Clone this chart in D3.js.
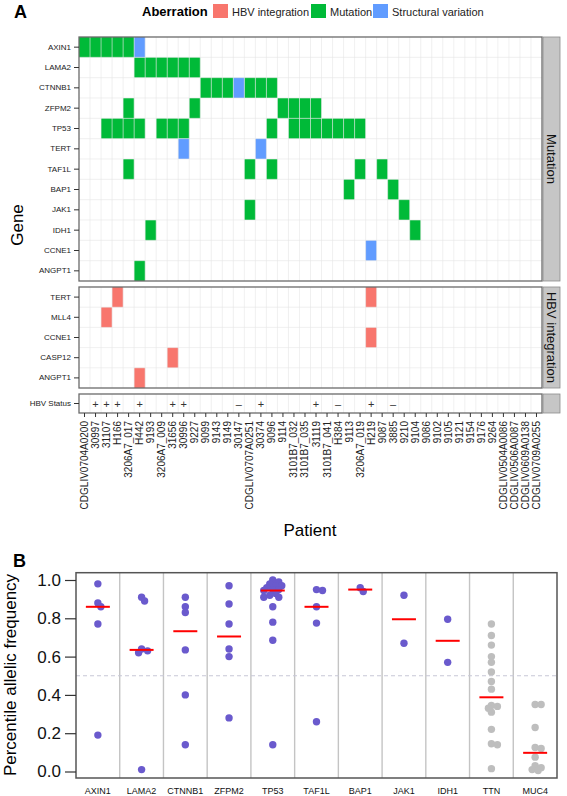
<!DOCTYPE html>
<html lang="en">
<head>
<meta charset="UTF-8">
<title>Aberrations and allelic frequency</title>
<script src="https://d3js.org/d3.v7.min.js"></script>
<style>
  body { margin: 0; background: #fff; }
  svg { font-family: "Liberation Sans", Arial, sans-serif; }
</style>
</head>
<body>
<div id="chart"></div>

<script>
// ---- Panel A data ----
const patients = ["CDGLIV0704A0200", "30997", "31107", "H166", "3206A7_017", "H442", "9193",
  "3206A7_009", "31656", "30996", "9227", "9099", "9143", "9149", "30147", "CDGLIV0707A0251",
  "30374", "9096", "9114", "3101B7_032", "3101B7_035", "31119", "3101B7_041", "H384", "9113",
  "3206A7_019", "H219", "9087", "3885", "9210", "9104", "9086", "9102", "9105", "9121", "9154",
  "9176", "9264", "CDGLIV0504A0086", "CDGLIV0506A0087", "CDGLIV0609A0138", "CDGLIV0709A0255"];

const mutationGenes = ["AXIN1", "LAMA2", "CTNNB1", "ZFPM2", "TP53", "TERT", "TAF1L", "BAP1",
  "JAK1", "IDH1", "CCNE1", "ANGPT1"];
const hbvGenes = ["TERT", "MLL4", "CCNE1", "CASP12", "ANGPT1"];

// gene -> patients carrying a point mutation
const mutationHits = [
  ["AXIN1", ["CDGLIV0704A0200", "30997", "31107", "H166", "3206A7_017"]],
  ["LAMA2", ["H442", "9193", "3206A7_009", "31656", "30996", "9227"]],
  ["CTNNB1", ["9099", "9143", "9149", "CDGLIV0707A0251", "30374", "9096"]],
  ["ZFPM2", ["3206A7_017", "9227", "9114", "3101B7_032", "3101B7_035", "31119"]],
  ["TP53", ["31107", "H166", "3206A7_017", "H442", "3206A7_009", "31656", "30996", "9096",
    "3101B7_032", "3101B7_035", "31119", "3101B7_041", "H384", "9113", "3206A7_019"]],
  ["TAF1L", ["3206A7_017", "CDGLIV0707A0251", "9096", "3206A7_019", "9087"]],
  ["BAP1", ["9113", "3885"]],
  ["JAK1", ["CDGLIV0707A0251", "9210"]],
  ["IDH1", ["9193", "9104"]],
  ["ANGPT1", ["H442"]]
];
// gene -> patients with a structural variation
const svHits = [
  ["AXIN1", ["H442"]],
  ["CTNNB1", ["30147"]],
  ["TERT", ["30996", "30374"]],
  ["CCNE1", ["H219"]]
];
// gene -> patients with HBV integration
const hbvHits = [
  ["TERT", ["H166", "H219"]],
  ["MLL4", ["31107"]],
  ["CCNE1", ["H219"]],
  ["CASP12", ["31656"]],
  ["ANGPT1", ["H442"]]
];
const hbvPositive = ["30997", "31107", "H166", "H442", "31656", "30996", "30374", "31119", "H219"];
const hbvNegative = ["30147", "H384", "3885"];

const aberrations = ["HBV integration", "Mutation", "Structural variation"];
const aberrationColors = ["#F8766D", "#00BA38", "#619CFF"];

// ---- Panel B data ----
const afGenes = ["AXIN1", "LAMA2", "CTNNB1", "ZFPM2", "TP53", "TAF1L", "BAP1", "JAK1", "IDH1", "TTN", "MUC4"];
const controlGenes = ["TTN", "MUC4"];
const afAXIN1 = [0.98, 0.88, 0.86, 0.77, 0.19];
const afLAMA2 = [0.91, 0.89, 0.64, 0.63, 0.62, 0.01];
const afCTNNB1 = [0.91, 0.86, 0.83, 0.635, 0.40, 0.14];
const afZFPM2 = [0.97, 0.875, 0.77, 0.64, 0.60, 0.28];
const afTP53 = [1.0, 0.99, 0.98, 0.97, 0.97, 0.96, 0.95, 0.95, 0.945, 0.93, 0.92, 0.91, 0.91, 0.86, 0.78, 0.685, 0.14];
const afTAF1L = [0.95, 0.945, 0.86, 0.775, 0.26];
const afBAP1 = [0.96, 0.94];
const afJAK1 = [0.92, 0.67];
const afIDH1 = [0.795, 0.57];
const afTTN = [0.77, 0.71, 0.66, 0.60, 0.57, 0.52, 0.47, 0.43, 0.345, 0.34, 0.33, 0.31, 0.22, 0.145, 0.14, 0.015];
const afMUC4 = [0.35, 0.35, 0.23, 0.125, 0.12, 0.075, 0.03, 0.02, 0.01, 0.005];
const afValues = [afAXIN1, afLAMA2, afCTNNB1, afZFPM2, afTP53, afTAF1L, afBAP1, afJAK1, afIDH1, afTTN, afMUC4];
const afTicks = [0, 0.2, 0.4, 0.6, 0.8, 1.0];

// ---- svg ----
const svg = d3.select("#chart").append("svg")
  .attr("width", 567)
  .attr("height", 796);

const border = "#6a6a6a";
const gridCol = "#e6e6e6";

// ---------------- Panel A ----------------
const x = d3.scaleBand().domain(patients).range([79, 542]);
const stripX = 543, stripW = 17;

svg.append("text").attr("x", 14).attr("y", 18)
  .attr("font-size", 18).attr("font-weight", "bold").text("A");

// legend
const legend = svg.append("g");
legend.append("text").attr("x", 142).attr("y", 16)
  .attr("font-size", 13).attr("font-weight", "bold").text("Aberration");
const legendX = [213, 311, 373];
aberrations.forEach((a, i) => {
  legend.append("rect").attr("x", legendX[i]).attr("y", 4).attr("width", 15).attr("height", 14)
    .attr("fill", aberrationColors[i]);
  legend.append("text").attr("x", legendX[i] + 19).attr("y", 15.5)
    .attr("font-size", 11).attr("fill", "#222").text(a);
});

function toCells(hits, type) {
  const out = [];
  hits.forEach(([gene, ps]) => ps.forEach(p => out.push({ gene, patient: p, type })));
  return out;
}

function drawPanel(genes, cells, top, bottom, stripLabel) {
  const y = d3.scaleBand().domain(genes).range([top, bottom]);
  const g = svg.append("g");
  g.append("rect").attr("x", 79).attr("y", top).attr("width", 463).attr("height", bottom - top)
    .attr("fill", "#fff");
  g.selectAll("rect.cell").data(cells).enter().append("rect")
    .attr("class", "cell")
    .attr("x", d => x(d.patient))
    .attr("y", d => y(d.gene))
    .attr("width", x.bandwidth())
    .attr("height", y.bandwidth())
    .attr("fill", d => aberrationColors[aberrations.indexOf(d.type)]);
  // grid lines at cell boundaries
  g.selectAll("line.v").data(patients.slice(1)).enter().append("line")
    .attr("x1", d => x(d)).attr("x2", d => x(d))
    .attr("y1", top).attr("y2", bottom)
    .attr("stroke", gridCol).attr("stroke-opacity", 0.75).attr("stroke-width", 0.8);
  g.selectAll("line.h").data(genes.slice(1)).enter().append("line")
    .attr("y1", d => y(d)).attr("y2", d => y(d))
    .attr("x1", 79).attr("x2", 542)
    .attr("stroke", gridCol).attr("stroke-opacity", 0.75).attr("stroke-width", 0.8);
  g.append("rect").attr("x", 79).attr("y", top).attr("width", 463).attr("height", bottom - top)
    .attr("fill", "none").attr("stroke", border).attr("stroke-width", 1.3);
  // row labels
  g.append("g").attr("transform", "translate(79,0)")
    .call(d3.axisLeft(y).tickSize(5).tickPadding(3))
    .call(a => a.select(".domain").remove())
    .call(a => a.selectAll("line").attr("stroke", "#333"))
    .call(a => a.selectAll("text").attr("font-size", 8).attr("fill", "#222")
      .attr("font-family", "Liberation Sans, Arial, sans-serif"));
  // strip
  g.append("rect").attr("x", stripX).attr("y", top).attr("width", stripW).attr("height", bottom - top)
    .attr("fill", "#c6c6c6").attr("stroke", "#8c8c8c").attr("stroke-width", 0.8);
  if (stripLabel) {
    g.append("text")
      .attr("transform", `translate(${stripX + stripW / 2 - 4.5},${(top + bottom) / 2}) rotate(90)`)
      .attr("text-anchor", "middle").attr("font-size", 13).attr("fill", "#111")
      .text(stripLabel);
  }
  return y;
}

const mutCells = toCells(mutationHits, "Mutation").concat(toCells(svHits, "Structural variation"));
drawPanel(mutationGenes, mutCells, 37, 281, "Mutation");
drawPanel(hbvGenes, toCells(hbvHits, "HBV integration"), 287, 388, "HBV integration");

// HBV status row
const statusY = drawPanel(["HBV Status"], [], 394, 413, null);
const statusData = hbvPositive.map(p => ({ p, s: "+" })).concat(hbvNegative.map(p => ({ p, s: "\u2013" })));
svg.append("g").selectAll("text").data(statusData).enter().append("text")
  .attr("x", d => x(d.p) + x.bandwidth() / 2)
  .attr("y", statusY("HBV Status") + statusY.bandwidth() / 2 + 4)
  .attr("text-anchor", "middle").attr("font-size", 11).attr("fill", "#333")
  .text(d => d.s);

// patient axis
svg.append("g").attr("transform", "translate(0,413)")
  .call(d3.axisBottom(x).tickSize(4).tickPadding(2))
  .call(a => a.select(".domain").remove())
  .call(a => a.selectAll("line").attr("stroke", "#333"))
  .call(a => a.selectAll("text")
    .attr("font-size", 10).attr("fill", "#222")
    .attr("font-family", "Liberation Sans, Arial, sans-serif")
    .attr("text-anchor", "end")
    .attr("dy", "0.35em")
    .attr("transform", "translate(0,2) rotate(-90)")
    .attr("x", -6).attr("y", 0));

svg.append("text").attr("x", 310).attr("y", 536).attr("text-anchor", "middle")
  .attr("font-size", 17).text("Patient");
svg.append("text").attr("transform", "translate(23,225) rotate(-90)")
  .attr("text-anchor", "middle").attr("font-size", 17).text("Gene");

// ---------------- Panel B ----------------
const bx = d3.scaleBand().domain(afGenes).range([76, 557]);
const by = d3.scaleLinear().domain([0, 1]).range([771.5, 580]);
const bTop = 572.7, bBottom = 778;

svg.append("text").attr("x", 13).attr("y", 567)
  .attr("font-size", 18).attr("font-weight", "bold").text("B");

const gb = svg.append("g");
// separators between genes
gb.selectAll("line.sep").data(afGenes.slice(1)).enter().append("line")
  .attr("x1", d => bx(d)).attr("x2", d => bx(d))
  .attr("y1", bTop).attr("y2", bBottom)
  .attr("stroke", "#c4c4c4").attr("stroke-width", 1.4);
gb.append("line")
  .attr("x1", 76).attr("x2", 557).attr("y1", by(0.5)).attr("y2", by(0.5))
  .attr("stroke", "#c8c8d6").attr("stroke-width", 1.2).attr("stroke-dasharray", "4,3");

// points, dodged so overlapping values spread sideways a little
const r = 3.7;
afGenes.forEach((gene, gi) => {
  const vals = afValues[gi].slice().sort((a, b) => b - a);
  const cx0 = bx(gene) + bx.bandwidth() / 2;
  const placed = [];
  vals.forEach(v => {
    const cy = by(v);
    const offs = [0, 3, -3, 6, -6, 9, -9];
    let ox = 0;
    for (const o of offs) {
      if (placed.every(p => Math.hypot(p[0] - (cx0 + o), p[1] - cy) > r * 1.05)) { ox = o; break; }
    }
    placed.push([cx0 + ox, cy]);
  });
  gb.selectAll(null).data(placed).enter().append("circle")
    .attr("cx", d => d[0]).attr("cy", d => d[1]).attr("r", r)
    .attr("fill", controlGenes.includes(gene) ? "#bebebe" : "#6a5acd");
  const med = d3.median(afValues[gi]);
  gb.append("line")
    .attr("x1", cx0 - 12).attr("x2", cx0 + 12)
    .attr("y1", by(med)).attr("y2", by(med))
    .attr("stroke", "#ff0000").attr("stroke-width", 2);
});

gb.append("rect").attr("x", 76).attr("y", bTop).attr("width", 481).attr("height", bBottom - bTop)
  .attr("fill", "none").attr("stroke", "#555").attr("stroke-width", 1.5);

svg.append("g").attr("transform", "translate(76,0)")
  .call(d3.axisLeft(by).tickValues(afTicks).tickFormat(d3.format(".1f")).tickSize(11).tickPadding(4))
  .call(a => a.select(".domain").remove())
  .call(a => a.selectAll("line").attr("stroke", "#333").attr("stroke-width", 1.2))
  .call(a => a.selectAll("text").attr("font-size", 17).attr("fill", "#111")
    .attr("font-family", "Liberation Sans, Arial, sans-serif"));

svg.append("g").attr("transform", `translate(0,${bBottom})`)
  .call(d3.axisBottom(bx).tickSize(0).tickPadding(10))
  .call(a => a.select(".domain").remove())
  .call(a => a.selectAll("text").attr("font-size", 9).attr("fill", "#111")
    .attr("font-family", "Liberation Sans, Arial, sans-serif"));

svg.append("text").attr("transform", "translate(16,675) rotate(-90)")
  .attr("text-anchor", "middle").attr("font-size", 17).text("Percentile allelic frequency");
</script>
</body>
</html>
